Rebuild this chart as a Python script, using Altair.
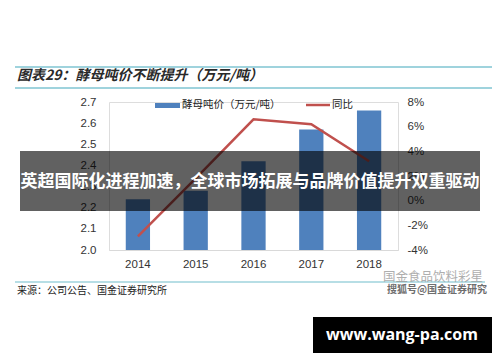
import altair as alt
import pandas as pd

years = ["2014", "2015", "2016", "2017", "2018"]
price = [2.24, 2.28, 2.42, 2.57, 2.66]
yoy = [-2.9, 1.8, 6.6, 6.2, 3.2]

left_ticks = [2.0, 2.1, 2.2, 2.3, 2.4, 2.5, 2.6, 2.7]
right_ticks = [-4, -2, 0, 2, 4, 6, 8]

title_text = "图表29：酵母吨价不断提升（万元/吨）"
legend_bar = "酵母吨价（万元/吨）"
legend_line = "同比"
source_text = "来源：公司公告、国金证券研究所"
banner_text = "英超国际化进程加速，全球市场拓展与品牌价值提升双重驱动"
wm1 = "国金食品饮料彩星"
wm2 = "搜狐号@国金证券研究"
site = "www.wang-pa.com"

df = pd.DataFrame({"year": years, "price": price, "yoy": yoy})
one = pd.DataFrame({"k": [0]})

CJK = "Noto Sans CJK SC"
NUM = "Liberation Sans"
# plot origin in image coords: (109, 102)
OX, OY = 109, 102

xenc = alt.X("year:N", sort=years, title=None,
             scale=alt.Scale(paddingInner=0.58, paddingOuter=0.29),
             axis=alt.Axis(labelAngle=0, labelFont=NUM, labelFontSize=11.5, labelColor="#333",
                           ticks=False, domainColor="#d9d9d9", labelPadding=8, grid=False))

bars = alt.Chart(df).mark_bar(color="#4f81bd").encode(
    x=xenc,
    y=alt.Y("price:Q", title=None, scale=alt.Scale(domain=[2.0, 2.7], zero=False, nice=False),
            axis=alt.Axis(values=left_ticks, format=".1f", labelFont=NUM, labelFontSize=11.5,
                          labelColor="#333", ticks=False, domain=False, grid=False, labelPadding=13)),
    y2=alt.datum(2.0),
)

line = alt.Chart(df).mark_line(color="#c0504d", strokeWidth=2.5).encode(
    x=alt.X("year:N", sort=years),
    y=alt.Y("yoy:Q", title=None, scale=alt.Scale(domain=[-4, 8], nice=False),
            axis=alt.Axis(orient="right", values=right_ticks, labelExpr="datum.value + '%'",
                          labelFont=NUM, labelFontSize=11.5, labelColor="#333", ticks=False,
                          domain=False, grid=False, labelPadding=9)),
)

def px(x):
    return alt.value(x - OX)

def py(y):
    return alt.value(y - OY)

def hline(x1, x2, y, color, w):
    return alt.Chart(one).mark_rule(color=color, strokeWidth=w).encode(
        x=px(x1), x2=px(x2), y=py(y))

def txt(s, x, y, size, font=CJK, color="#333", weight="normal", align="left", style="normal", opacity=1):
    return alt.Chart(one).mark_text(text=s, font=font, fontSize=size, color=color, fontWeight=weight,
                                    align=align, baseline="middle", fontStyle=style,
                                    opacity=opacity).encode(x=px(x), y=py(y))

top1 = hline(15, 492, 67, "#9fd3dd", 2)
top2 = hline(15, 492, 88, "#9fd3dd", 2)
bot = hline(15, 485, 282, "#9fd3dd", 1.5)

title = txt(title_text, 17, 76, 14, weight="bold", style="italic", color="#2a2a2a")
source = txt(source_text, 17, 291, 10, color="#222")

leg_rect = alt.Chart(one).mark_rect(color="#4f81bd").encode(
    x=px(155), x2=px(180), y=py(103), y2=py(108))
leg_t1 = txt(legend_bar, 182, 105, 10.5, color="#222")
leg_line = hline(306, 330, 105, "#c0504d", 2.5)
leg_t2 = txt(legend_line, 332, 105, 10.5, color="#222")

w1 = txt(wm1, 383, 277, 12.5, color="#9a9a9a", opacity=0.8)
w2 = txt(wm2, 387, 290, 10, color="#555", weight="bold", opacity=0.85)

banner = alt.Chart(one).mark_rect(color="#000000", opacity=0.62).encode(
    x=px(20), x2=px(480), y=py(151), y2=py(211))
banner_t = txt(banner_text, 250, 182, 17, color="#ffffff", weight="bold", align="center")

box = alt.Chart(one).mark_rect(color="#000000").encode(
    x=px(313), x2=px(492), y=py(317), y2=py(353))
box_t = txt(site, 402, 335, 16, font="Open Sans", color="#ffffff", weight="bold", align="center")

chart = alt.layer(
    bars, line, top1, top2, bot, title, source, leg_rect, leg_t1, leg_line, leg_t2,
    w1, w2, banner, banner_t, box, box_t
).resolve_scale(y="independent").properties(
    width=289, height=148,
    autosize=alt.AutoSizeParams(type="none"),
    padding={"left": 101, "top": 94, "right": 94, "bottom": 104},
).configure_view(stroke=None).configure(background="#ffffff")

chart.save("out.html", embed_options={"renderer": "svg", "actions": False})
